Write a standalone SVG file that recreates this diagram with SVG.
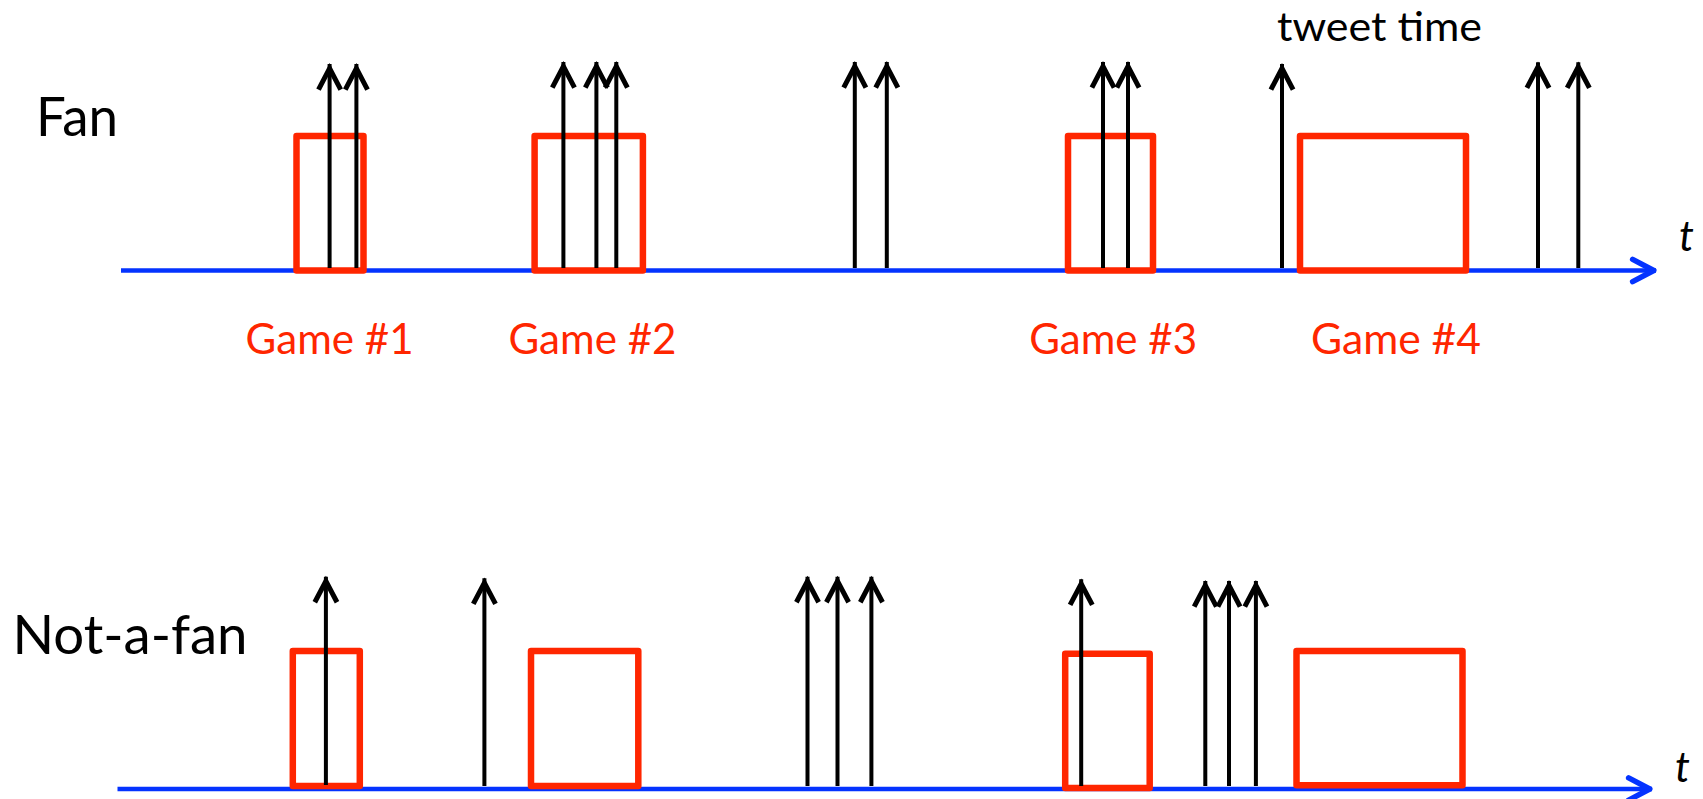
<svg xmlns="http://www.w3.org/2000/svg" width="1703" height="799" viewBox="0 0 1703 799">
  <style>
    .axis { stroke: #0433FF; stroke-width: 4.5; fill: none; }
    .game { stroke: #FF2600; stroke-width: 6.5; fill: none; stroke-linejoin: round; }
    .tweet { stroke: #000; stroke-width: 4; marker-end: url(#tip); }
    .label { font-family: Lato, "Open Sans", "Liberation Sans", sans-serif; fill: #000; }
    .glabel { font-family: Lato, "Open Sans", "Liberation Sans", sans-serif; fill: #FF2600; font-size: 42px; }
    .tlabel { font-family: Lato, "Liberation Sans", sans-serif; font-style: italic; font-size: 42px; fill: #000; }
  </style>
  <defs>
    <!-- open chevron head for tweet arrows -->
    <marker id="tip" markerUnits="userSpaceOnUse" markerWidth="40" markerHeight="40" viewBox="-30 -15 36 30" refX="0" refY="0" orient="auto" overflow="visible">
      <path d="M -23,-10 L -4,0 L -23,10" fill="none" stroke="#000" stroke-width="4.5" stroke-linejoin="miter"/>
    </marker>
    <!-- open chevron head for time axes -->
    <marker id="axisTip" markerUnits="userSpaceOnUse" markerWidth="40" markerHeight="40" viewBox="-30 -15 36 30" refX="0" refY="0" orient="auto" overflow="visible">
      <path d="M -21,-10 L -2,0 L -21,10" fill="none" stroke="#0433FF" stroke-width="5" stroke-linecap="round" stroke-linejoin="round"/>
    </marker>
  </defs>

  <rect width="1703" height="799" fill="#fff"/>

  <!-- row labels -->
  <text class="label" x="36" y="136" font-size="54" textLength="82" lengthAdjust="spacingAndGlyphs">Fan</text>
  <text class="label" x="12.5" y="654" font-size="54" textLength="235" lengthAdjust="spacingAndGlyphs">Not-a-fan</text>
  <text class="label" x="1277" y="40.5" font-size="40" textLength="205" lengthAdjust="spacingAndGlyphs">tweet time</text>

  <!-- time axes -->
  <g id="axes">
    <line class="axis" x1="121" y1="270.5" x2="1656" y2="270.5" marker-end="url(#axisTip)"/>
    <line class="axis" x1="117.5" y1="789" x2="1652" y2="789" marker-end="url(#axisTip)"/>
    <text class="tlabel" x="1679" y="250.5">t</text>
    <text class="tlabel" x="1675" y="781.5">t</text>
  </g>

  <!-- fan: game windows -->
  <g id="fan-game-1">
    <rect class="game" x="296.5" y="136" width="67" height="134.5"/>
    <text class="glabel" x="245.6" y="354.3" textLength="168" lengthAdjust="spacingAndGlyphs">Game #1</text>
  </g>
  <g id="fan-game-2">
    <rect class="game" x="534.6" y="136" width="108.3" height="134.5"/>
    <text class="glabel" x="508.5" y="354.3" textLength="168" lengthAdjust="spacingAndGlyphs">Game #2</text>
  </g>
  <g id="fan-game-3">
    <rect class="game" x="1068" y="136" width="85" height="134.5"/>
    <text class="glabel" x="1029.2" y="354.3" textLength="168" lengthAdjust="spacingAndGlyphs">Game #3</text>
  </g>
  <g id="fan-game-4">
    <rect class="game" x="1300" y="136" width="166" height="134.5"/>
    <text class="glabel" x="1311" y="354.3" textLength="170" lengthAdjust="spacingAndGlyphs">Game #4</text>
  </g>

  <!-- not-a-fan: game windows -->
  <g id="nonfan-game-1">
    <rect class="game" x="292.8" y="651" width="67" height="135"/>
  </g>
  <g id="nonfan-game-2">
    <rect class="game" x="531" y="651" width="107.3" height="135"/>
  </g>
  <g id="nonfan-game-3">
    <rect class="game" x="1065.2" y="653.7" width="84.5" height="134.3"/>
  </g>
  <g id="nonfan-game-4">
    <rect class="game" x="1296.5" y="651" width="166" height="134.3"/>
  </g>

  <!-- tweet arrows -->
  <g id="tweets">
    <line class="tweet" x1="329.6" y1="268" x2="329.6" y2="64"/>
    <line class="tweet" x1="356.4" y1="268" x2="356.4" y2="64"/>
    <line class="tweet" x1="563.4" y1="268" x2="563.4" y2="62"/>
    <line class="tweet" x1="596.4" y1="268" x2="596.4" y2="62"/>
    <line class="tweet" x1="616.3" y1="268" x2="616.3" y2="62"/>
    <line class="tweet" x1="854.8" y1="268" x2="854.8" y2="62"/>
    <line class="tweet" x1="886.8" y1="268" x2="886.8" y2="62"/>
    <line class="tweet" x1="1103" y1="268" x2="1103" y2="62"/>
    <line class="tweet" x1="1128" y1="268" x2="1128" y2="62"/>
    <line class="tweet" x1="1282" y1="268" x2="1282" y2="64"/>
    <line class="tweet" x1="1538" y1="268" x2="1538" y2="62.3"/>
    <line class="tweet" x1="1578.3" y1="268" x2="1578.3" y2="62.3"/>

    <line class="tweet" x1="325.9" y1="785" x2="325.9" y2="576.7"/>
    <line class="tweet" x1="484.4" y1="786" x2="484.4" y2="578.3"/>
    <line class="tweet" x1="807.5" y1="786" x2="807.5" y2="576.7"/>
    <line class="tweet" x1="837.5" y1="786" x2="837.5" y2="576.7"/>
    <line class="tweet" x1="871.4" y1="786" x2="871.4" y2="576.7"/>
    <line class="tweet" x1="1081.2" y1="786" x2="1081.2" y2="579.3"/>
    <line class="tweet" x1="1205.3" y1="786" x2="1205.3" y2="581"/>
    <line class="tweet" x1="1229" y1="786" x2="1229" y2="581"/>
    <line class="tweet" x1="1255.9" y1="786" x2="1255.9" y2="581"/>
  </g>
</svg>
